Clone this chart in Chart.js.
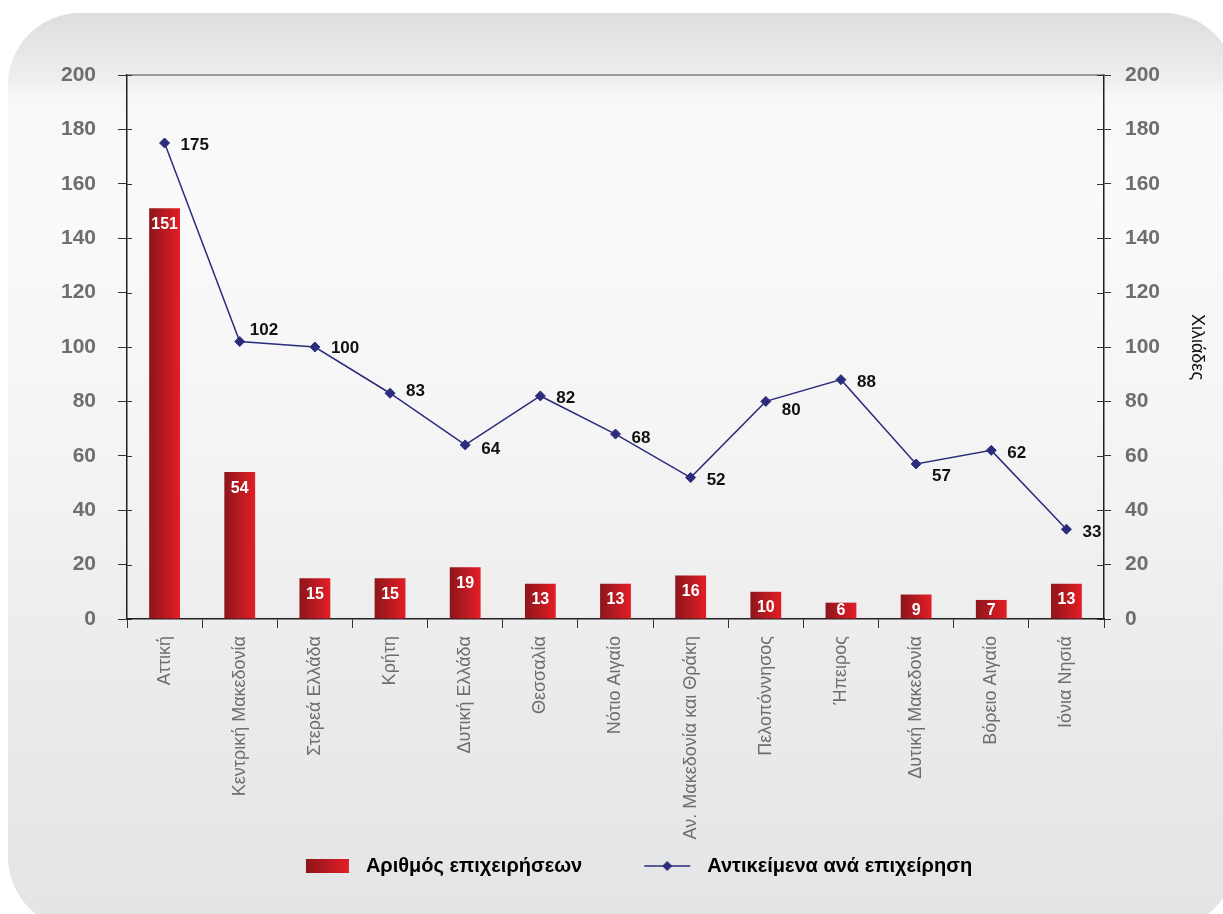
<!DOCTYPE html>
<html>
<head>
<meta charset="utf-8">
<script src="https://cdn.jsdelivr.net/npm/chart.js@4/dist/chart.umd.min.js"></script>
<style>
  html, body { margin: 0; padding: 0; background: #fff; overflow: hidden; }
  #card {
    position: absolute; left: 8px; top: 13px; width: 1228px; height: 916px;
    border-radius: 72px;
    background: linear-gradient(to bottom, #dcdddf 0%, #eeeeef 7%, #f8f8f8 9.5%, #fafafa 20%, #f5f5f6 45%, #ececed 70%, #e3e4e5 100%);
  }
  #wrap { position: absolute; left: 0; top: 0; width: 1223px; height: 914px; }
</style>
</head>
<body>
<div id="card"></div>
<div id="wrap"><canvas id="chart" width="1223" height="914"></canvas></div>
<script>
const regions = [
  "Αττική", "Κεντρική Μακεδονία", "Στερεά Ελλάδα", "Κρήτη", "Δυτική Ελλάδα",
  "Θεσσαλία", "Νότιο Αιγαίο", "Αν. Μακεδονία και Θράκη", "Πελοπόννησος",
  "Ήπειρος", "Δυτική Μακεδονία", "Βόρειο Αιγαίο", "Ιόνια Νησιά"
];
const businesses = [151, 54, 15, 15, 19, 13, 13, 16, 10, 6, 9, 7, 13];
const objectsPerBusiness = [175, 102, 100, 83, 64, 82, 68, 52, 80, 88, 57, 62, 33];
const SERIES = ["Αριθμός επιχειρήσεων", "Αντικείμενα ανά επιχείρηση"];
// vertical nudge of the line labels (px), as placed in the original
const labelNudge = [2, -11, 1, -2, 4, 2, 4, 3, 9, 3, 12, 3, 3];

const RED_DARK = "#8c161b";
const RED_LIGHT = "#e41d26";
const NAVY = "#2b2c7c";
const TICK_GRAY = "#6d6e71";
const AXIS = "#231f20";
const BAR_PCT = 0.41;
const FONT = "'Liberation Sans', Arial, sans-serif";
const LEGEND_BOX = 105;

function barGradient(c) {
  const chart = c.chart;
  const xs = chart.scales.x;
  if (!xs || c.dataIndex === undefined) return RED_LIGHT;
  const cx = xs.getPixelForValue(c.dataIndex);
  const half = xs.width / regions.length * BAR_PCT / 2;
  const g = chart.ctx.createLinearGradient(cx - half, 0, cx + half, 0);
  g.addColorStop(0, RED_DARK);
  g.addColorStop(1, RED_LIGHT);
  return g;
}

// legend swatches sit at the right end of a wide transparent box
function legendBar() {
  const c = document.createElement("canvas");
  c.width = LEGEND_BOX; c.height = 14;
  const x = c.getContext("2d");
  const x0 = LEGEND_BOX - 7 - 43;
  const g = x.createLinearGradient(x0, 0, x0 + 43, 0);
  g.addColorStop(0, RED_DARK);
  g.addColorStop(1, RED_LIGHT);
  x.fillStyle = g;
  x.fillRect(x0, 0, 43, 14);
  return c;
}

function legendLine() {
  const c = document.createElement("canvas");
  c.width = LEGEND_BOX; c.height = 12;
  const x = c.getContext("2d");
  const x0 = LEGEND_BOX - 7 - 46;
  x.strokeStyle = NAVY; x.lineWidth = 1.5;
  x.beginPath(); x.moveTo(x0, 6); x.lineTo(x0 + 46, 6); x.stroke();
  x.fillStyle = NAVY;
  const m = x0 + 23;
  x.beginPath(); x.moveTo(m - 5, 6); x.lineTo(m, 1); x.lineTo(m + 5, 6); x.lineTo(m, 11); x.closePath(); x.fill();
  return c;
}

// value labels on bars and next to the line points
const valueLabels = {
  id: "valueLabels",
  afterDatasetsDraw(chart) {
    const ctx = chart.ctx;
    const base = chart.scales.y.getPixelForValue(0);
    ctx.save();
    ctx.font = "bold 16px " + FONT;
    ctx.fillStyle = "#fff";
    ctx.textAlign = "center";
    ctx.textBaseline = "middle";
    chart.getDatasetMeta(0).data.forEach((bar, i) => {
      ctx.fillText(String(businesses[i]), bar.x, Math.min(bar.y + 16, base - 8));
    });
    ctx.font = "bold 17px " + FONT;
    ctx.fillStyle = "#111";
    ctx.textAlign = "left";
    chart.getDatasetMeta(1).data.forEach((pt, i) => {
      const dx = labelNudge[i] < -5 ? 10 : 16;
      ctx.fillText(String(objectsPerBusiness[i]), pt.x + dx, pt.y + labelNudge[i]);
    });
    ctx.restore();
  }
};

// top frame line and the inner half of the y ticks
const frame = {
  id: "frame",
  afterDraw(chart) {
    const ctx = chart.ctx;
    const a = chart.chartArea;
    ctx.save();
    ctx.strokeStyle = "#7d7d7f";
    ctx.lineWidth = 1.5;
    ctx.beginPath(); ctx.moveTo(a.left, a.top); ctx.lineTo(a.right, a.top); ctx.stroke();
    ctx.strokeStyle = "#333";
    ctx.lineWidth = 1;
    chart.scales.y.ticks.forEach((t) => {
      const py = Math.round(chart.scales.y.getPixelForValue(t.value)) + 0.5;
      ctx.beginPath(); ctx.moveTo(a.left, py); ctx.lineTo(a.left + 5, py); ctx.stroke();
      ctx.beginPath(); ctx.moveTo(a.right - 7, py); ctx.lineTo(a.right, py); ctx.stroke();
    });
    ctx.restore();
  }
};

new Chart(document.getElementById("chart"), {
  type: "bar",
  data: {
    labels: regions,
    datasets: [
      {
        type: "bar",
        label: SERIES[0],
        data: businesses,
        yAxisID: "y",
        order: 1,
        backgroundColor: barGradient,
        barPercentage: BAR_PCT,
        categoryPercentage: 1
      },
      {
        type: "line",
        label: SERIES[1],
        data: objectsPerBusiness,
        yAxisID: "y2",
        order: 0,
        borderColor: NAVY,
        borderWidth: 1.5,
        backgroundColor: NAVY,
        pointStyle: "rectRot",
        pointRadius: 5,
        pointBorderWidth: 1,
        tension: 0
      }
    ]
  },
  options: {
    responsive: false,
    animation: false,
    devicePixelRatio: 1,
    layout: { padding: { top: 75, left: 0, right: 0, bottom: 28 } },
    scales: {
      x: {
        offset: true,
        grid: { offset: true, drawOnChartArea: false, tickLength: 9, color: "#333" },
        border: { color: AXIS, width: 1.5 },
        ticks: {
          autoSkip: false, minRotation: 90, maxRotation: 90, padding: 8,
          color: TICK_GRAY,
          font: { family: FONT, size: 18 }
        },
        afterFit: (s) => { s.height = 227; }
      },
      y: {
        position: "left",
        min: 0, max: 200,
        grid: { drawOnChartArea: false, tickLength: 9, color: "#333" },
        border: { color: AXIS, width: 1.5 },
        ticks: {
          stepSize: 20, padding: 22, color: TICK_GRAY,
          font: { family: FONT, size: 21, weight: "bold" }
        },
        afterFit: (s) => { s.width = 127; }
      },
      y2: {
        position: "right",
        min: 0, max: 200,
        grid: { drawOnChartArea: false, tickLength: 7, color: "#333" },
        border: { color: AXIS, width: 1.5 },
        ticks: {
          stepSize: 20, padding: 14, color: TICK_GRAY,
          font: { family: FONT, size: 21, weight: "bold" }
        },
        title: {
          display: true, text: "Χιλιάδες", color: "#111",
          padding: { top: 15, bottom: 4 },
          font: { family: FONT, size: 18 }
        },
        afterFit: (s) => { s.width = 119; }
      }
    },
    plugins: {
      tooltip: { enabled: false },
      legend: {
        position: "bottom",
        labels: {
          usePointStyle: true,
          pointStyleWidth: LEGEND_BOX,
          boxHeight: 14,
          padding: 10,
          color: "#231f20",
          font: { family: FONT, size: 20, weight: "bold" },
          generateLabels: () => [
            { text: SERIES[0], pointStyle: legendBar(), datasetIndex: 0, fillStyle: RED_LIGHT, strokeStyle: RED_LIGHT, lineWidth: 0 },
            { text: SERIES[1], pointStyle: legendLine(), datasetIndex: 1, fillStyle: NAVY, strokeStyle: NAVY, lineWidth: 0 }
          ]
        }
      }
    }
  },
  plugins: [valueLabels, frame]
});
</script>
</body>
</html>
